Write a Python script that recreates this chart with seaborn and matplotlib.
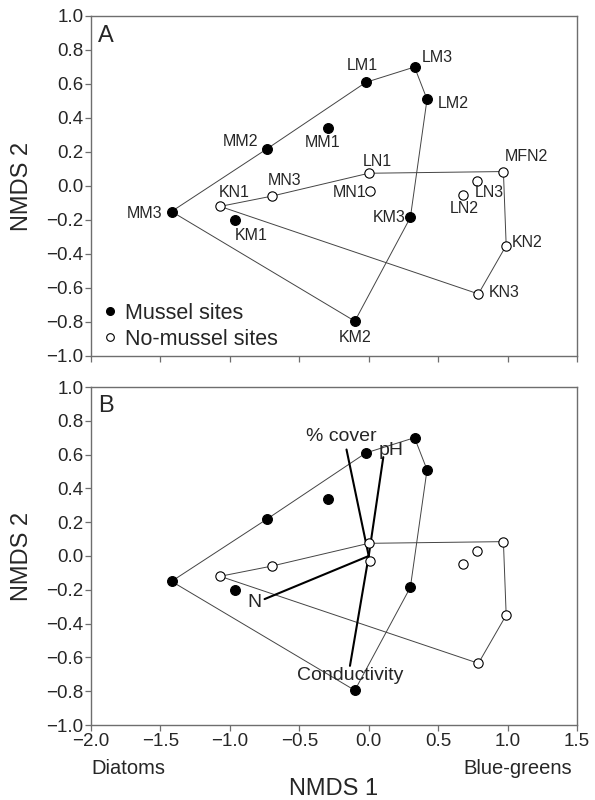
import matplotlib
matplotlib.use("Agg")
import matplotlib.pyplot as plt
import numpy as np
import pandas as pd
import seaborn as sns
from matplotlib.lines import Line2D

# site scores (NMDS 1, NMDS 2)
sites = ["MM3", "KN1", "KM1", "MN3", "MM2", "MM1", "LM1", "LM3", "LM2",
         "LN1", "MN1", "MFN2", "LN3", "LN2", "KM3", "KN2", "KN3", "KM2"]
nmds1 = [-1.42, -1.07, -0.96, -0.70, -0.73, -0.29, -0.02, 0.33, 0.42,
         0.00, 0.01, 0.97, 0.78, 0.68, 0.30, 0.99, 0.79, -0.10]
nmds2 = [-0.15, -0.12, -0.20, -0.06, 0.22, 0.34, 0.61, 0.70, 0.51,
         0.075, -0.03, 0.085, 0.03, -0.05, -0.185, -0.35, -0.635, -0.795]
group = ["Mussel", "No-mussel", "Mussel", "No-mussel", "Mussel", "Mussel",
         "Mussel", "Mussel", "Mussel", "No-mussel", "No-mussel", "No-mussel",
         "No-mussel", "No-mussel", "Mussel", "No-mussel", "No-mussel", "Mussel"]

# convex hulls (site order)
hull_mussel = ["MM3", "MM2", "LM1", "LM3", "LM2", "KM3", "KM2", "MM3"]
hull_nomussel = ["KN1", "MN3", "LN1", "MFN2", "KN2", "KN3", "KN1"]

# environmental vectors
vec_names = ["% cover", "pH", "N", "Conductivity"]
vec_x = [-0.16, 0.105, -0.75, -0.135]
vec_y = [0.63, 0.585, -0.255, -0.65]

xticks = [-2.0, -1.5, -1.0, -0.5, 0.0, 0.5, 1.0, 1.5]
yticks = [-1.0, -0.8, -0.6, -0.4, -0.2, 0.0, 0.2, 0.4, 0.6, 0.8, 1.0]

df = pd.DataFrame({"site": sites, "x": nmds1, "y": nmds2, "group": group})

# label offsets in pixels (text centre relative to point)
label_off = {
    "LM1": (-4, 17), "LM3": (23, 10), "LM2": (26, -4), "MM2": (-27, 7),
    "MM1": (-6, -14), "LN1": (9, 12), "MN3": (13, 16), "KN1": (14, 14),
    "MN1": (-21, -1), "MFN2": (23, 15), "LN3": (12, -12), "LN2": (1, -14),
    "KM3": (-21, 0), "KN2": (21, 3), "KN3": (26, 1), "KM2": (0, -16),
    "MM3": (-27, -2), "KM1": (16, -16),
}
# vector label positions (data coords)
vec_lab = {"% cover": (-0.195, 0.71), "pH": (0.165, 0.625),
           "N": (-0.825, -0.275), "Conductivity": (-0.133, -0.705)}

sns.set_style("ticks")
plt.rcParams["font.family"] = ["Liberation Sans", "DejaVu Sans"]
plt.rcParams["axes.unicode_minus"] = True

fig = plt.figure(figsize=(5.95, 8.0), dpi=100)
axA = fig.add_axes([91 / 595, 1 - 356 / 800, 486 / 595, 340 / 800])
axB = fig.add_axes([91 / 595, 1 - 725 / 800, 486 / 595, 338 / 800])

gray = "#6e6e6e"
pos = df.set_index("site")


def fmt(v):
    return f"{v:.1f}".replace("-", "\u2212")


def draw_sites(ax):
    for hull in (hull_mussel, hull_nomussel):
        ax.plot(pos.loc[hull, "x"], pos.loc[hull, "y"], color="#444444",
                lw=0.7, zorder=1)
    m = df[df["group"] == "Mussel"]
    n = df[df["group"] == "No-mussel"]
    sns.scatterplot(data=m, x="x", y="y", ax=ax, color="black", s=50,
                    edgecolor="black", linewidth=0.8, zorder=3, legend=False)
    sns.scatterplot(data=n, x="x", y="y", ax=ax, color="white", s=45,
                    edgecolor="black", linewidth=0.8, zorder=3, legend=False)


def style_axes(ax, xlabels):
    ax.set_xlim(-2.0, 1.5)
    ax.set_ylim(-1.0, 1.0)
    ax.set_xticks(xticks)
    ax.set_yticks(yticks)
    ax.set_yticklabels([fmt(v) for v in yticks])
    if xlabels:
        ax.set_xticklabels([fmt(v) for v in xticks])
    else:
        ax.set_xticklabels([])
    ax.tick_params(axis="both", direction="out", length=4, width=0.9,
                   color=gray, labelsize=13.5, pad=1.5)
    for sp in ax.spines.values():
        sp.set_color(gray)
        sp.set_linewidth(1.0)
    ax.set_xlabel("")
    ax.set_ylabel("NMDS 2", fontsize=17)
    ax.yaxis.set_label_coords(-0.142, 0.5)
    ax.yaxis.label.set_va("center")


# Panel A
draw_sites(axA)
for s, (dx, dy) in label_off.items():
    axA.annotate(s, (pos.loc[s, "x"], pos.loc[s, "y"]), xytext=(dx, dy),
                 textcoords="offset pixels", ha="center", va="center",
                 fontsize=11.5)
style_axes(axA, False)
axA.text(0.014, 0.924, "A", transform=axA.transAxes, fontsize=17,
         ha="left", va="baseline")
handles = [
    Line2D([], [], marker="o", ls="", color="black", markersize=5.5),
    Line2D([], [], marker="o", ls="", markerfacecolor="white",
           markeredgecolor="black", markersize=5.5, markeredgewidth=0.8),
]
axA.legend(handles, ["Mussel sites", "No-mussel sites"], loc="lower left",
           bbox_to_anchor=(0.0, -0.02), frameon=False, fontsize=15.5,
           handlelength=0.6, handletextpad=0.4, labelspacing=0.25,
           borderpad=0.3, borderaxespad=0.3)

# Panel B
draw_sites(axB)
for name, vx, vy in zip(vec_names, vec_x, vec_y):
    axB.plot([0, vx], [0, vy], color="black", lw=1.5, zorder=2)
    lx, ly = vec_lab[name]
    axB.text(lx, ly, name, ha="center", va="center", fontsize=14, zorder=4)
style_axes(axB, True)
axB.text(0.014, 0.926, "B", transform=axB.transAxes, fontsize=17,
         ha="left", va="baseline")
axB.text(0.0, (725 - 768) / 338, "Diatoms", transform=axB.transAxes,
         ha="left", va="center", fontsize=14.5)
axB.text(0.99, (725 - 768) / 338, "Blue-greens", transform=axB.transAxes,
         ha="right", va="center", fontsize=14.5)
axB.set_xlabel("NMDS 1", fontsize=17)
axB.xaxis.set_label_coords(0.5, (725 - 789) / 338)
axB.xaxis.label.set_va("center")

fig.savefig("out.png", dpi=100)
